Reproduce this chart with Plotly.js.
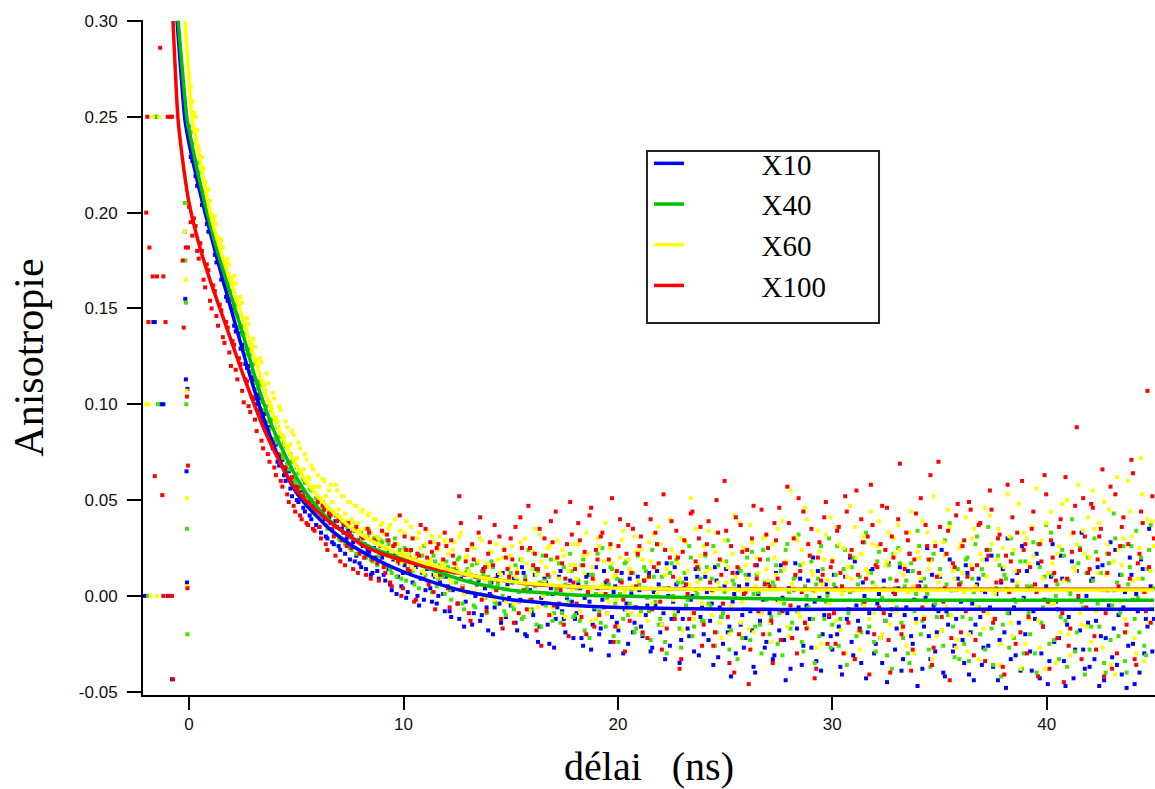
<!DOCTYPE html>
<html><head><meta charset="utf-8">
<script src="https://cdn.plot.ly/plotly-3.0.1.min.js"></script>
<style>html,body{margin:0;padding:0;background:#fff;} #chart{width:1155px;height:789px;}</style>
</head><body><div id="chart"></div>
<script>
// ---- series names ----
const names = ['X10', 'X40', 'X60', 'X100'];

// ---- measured anisotropy (values in 1/1000), channel set A: t = 0, 0.15, 0.30 ... 45 ns ----
const tA0 = 0, tB0 = 0.075, dt = 0.15;
const dataX10 = [
239,227,219,215,204,201,190,189,178,176,165,163,154,151,141,140,129,129,119,117,
112,100,103,91,87,88,77,79,68,71,60,65,52,58,49,55,44,47,40,46,
45,33,40,30,38,27,36,24,33,30,19,28,21,17,26,14,23,12,20,9,
20,8,14,3,22,10,5,16,2,13,18,0,9,-2,14,4,11,-4,7,1,
10,-8,3,15,-12,5,-3,12,-15,0,8,-10,4,-18,7,-6,11,-14,-2,6,
-5,9,-18,-2,12,-21,3,-10,14,-16,-4,7,-25,1,-12,10,-8,-19,5,-3,
-12,6,-22,-1,11,-28,-7,4,-17,13,-9,-24,2,-14,8,-30,-4,9,-19,-6,
3,-21,-10,12,-27,-5,6,-15,-33,0,-12,15,-8,-23,4,-17,-2,-29,10,-11,
-20,2,-13,-36,8,-6,-25,14,-16,-3,-30,5,-10,-22,11,-18,-40,1,-8,-27,
7,-14,-31,-2,16,-23,-9,-38,3,-17,9,-26,-5,-12,20,-34,-1,-20,6,-11,
-28,4,-16,-41,10,-7,-24,18,-13,-35,0,-19,13,-30,-4,-22,8,-45,-10,2,
-17,15,-33,-6,22,-25,-12,5,-38,-1,-21,11,-29,-8,24,-42,-15,3,-26,9,
-3,-35,12,-19,-44,6,-11,-27,19,-6,-37,1,-23,14,-48,-9,8,-31,-14,26,
-20,4,-39,-12,17,-30,-2,-46,10,-24,-7,21,-34,-15,3,-43,13,-18,-28,0,
-37,9,-13,-47,16,-22,-5,-32,24,-10,-41,2,-26,11,-46,-8,19,-30,-16,5,
-12];
const dataX40 = [
245,236,225,221,207,204,194,192,181,181,171,170,159,159,148,146,136,137,126,126,
121,108,110,97,99,87,92,80,83,72,78,66,70,59,64,53,59,48,55,44,
50,40,47,35,44,32,42,29,38,36,25,35,22,33,31,20,34,18,30,21,
28,15,27,12,30,19,9,25,14,24,6,22,17,26,8,19,21,5,16,10,
18,3,14,7,20,-4,12,2,16,-6,9,13,-1,10,18,-3,6,11,-8,4,
12,-7,8,19,-11,4,-2,14,-15,7,21,-5,10,-13,3,17,-9,6,-3,13,
-10,8,16,-18,2,11,-6,22,-14,5,-1,15,-21,9,1,-12,18,-4,12,-17,
6,-20,13,-8,24,-3,-15,10,-24,3,17,-10,7,-27,12,-2,20,-16,1,9,
-13,15,-5,26,-19,4,-9,18,-28,8,-1,14,-22,11,-7,23,-16,2,-30,7,
19,-11,5,-25,13,-4,27,-17,9,-8,16,-29,0,21,-12,6,-21,14,-3,30,
-15,11,-26,3,24,-9,15,-33,6,-19,28,-2,12,-24,18,-7,4,-31,9,22,
-6,17,-22,8,-35,13,1,26,-13,5,-28,19,-4,10,-18,29,-10,3,-32,14,
7,-25,20,-12,2,31,-20,11,-7,24,-36,4,16,-15,9,-27,22,-3,13,-38,
18,-9,5,-30,27,-14,10,-2,33,-23,6,-11,21,-37,1,15,-19,25,-6,12,
-28,8,23,-16,3,-40,17,-5,30,-21,11,-34,6,26,-12,-1,20,-26,14,37,
4];
const dataX60 = [
272,258,250,233,229,216,212,199,198,187,186,175,176,166,167,154,156,144,145,133,
134,123,124,112,116,101,106,93,99,84,91,78,86,71,80,64,74,62,68,57,
63,51,60,46,58,44,55,41,52,39,49,38,47,34,45,31,43,29,40,30,
38,24,35,20,40,27,17,33,22,36,14,30,25,12,34,19,28,10,31,16,
27,9,24,16,31,5,20,13,26,2,18,29,8,15,23,-2,19,11,25,4,
21,-4,14,28,6,17,-8,23,11,32,0,15,26,-6,19,9,24,-11,13,3,
16,27,-5,12,22,-13,8,30,1,18,-9,25,10,-2,20,34,-7,14,5,23,
-10,19,9,28,-4,15,36,-15,11,3,24,-8,17,30,-1,13,51,-12,7,21,
26,-6,14,2,33,-14,18,7,-20,22,10,38,-3,16,-17,28,5,12,-9,31,
8,-24,20,35,-2,14,-16,55,4,29,-11,17,40,-7,11,-27,23,6,32,-4,
19,-13,27,1,-30,15,9,36,-19,22,-5,12,44,-9,26,-22,3,18,-15,30,
-8,24,11,-26,33,5,-14,20,39,-3,14,-33,28,7,-18,21,45,-10,9,-23,
27,2,-29,16,35,-6,22,-17,10,42,-12,19,-36,25,4,31,-21,13,48,-2,
-25,17,36,6,-13,29,-38,12,44,-4,22,-19,8,50,-31,15,27,-9,34,-16,
20,55,-8,38,-27,11,45,3,-41,24,16,-12,60,31,-22,9,72,-34,40,13,
26];
const dataX100 = [
203,188,193,176,180,161,170,150,159,141,149,132,140,120,131,113,121,101,112,96,
103,86,95,77,88,70,80,63,73,57,67,49,62,44,57,40,54,37,50,34,
49,30,45,24,42,31,39,18,37,26,33,14,36,22,30,11,33,19,28,8,
34,12,29,5,27,18,0,31,14,24,-3,22,37,9,20,28,2,25,11,19,
26,-6,21,13,52,4,18,-9,27,10,33,-2,15,22,0,37,8,-12,24,14,
30,-14,12,41,3,-7,25,16,-18,35,6,21,-10,28,44,-4,17,9,-21,32,
14,38,-11,23,2,46,-16,19,31,-6,8,27,-24,13,40,-2,22,-13,35,5,
26,-19,48,10,-7,33,17,-28,24,4,39,-12,20,-33,29,1,43,-9,15,36,
-15,27,7,-26,50,19,-4,34,-35,12,41,-20,23,2,-46,30,16,-8,45,6,
25,-13,38,9,-23,17,57,-5,30,-30,13,44,-17,21,3,-38,28,11,49,-10,
18,-25,36,5,52,-14,24,-33,11,40,-3,31,58,-20,15,27,-9,46,-40,20,
8,69,-16,33,22,-28,43,12,-6,37,19,-36,26,70,-11,4,34,-22,15,48,
-19,29,10,45,-31,16,38,-8,24,55,-14,7,32,-37,21,2,41,-25,13,60,
27,-11,35,6,-42,18,63,-3,29,12,-22,40,-45,9,-17,33,88,24,51,-6,
14,46,-28,31,66,-9,22,-38,53,5,36,-19,27,71,-33,17,44,2,107,-14,
30];

// ---- channel set B: t = 0.075, 0.225 ... 44.925 ns (values in 1/1000) ----
const dataX10b = [
229,227,214,212,206,194,192,186,174,173,167,156,155,150,138,137,131,121,120,114,
103,105,93,95,84,80,81,70,73,63,66,56,60,50,55,46,51,42,47,37,
36,44,31,41,28,39,26,35,22,34,31,18,29,15,27,24,11,25,13,21,
11,23,6,19,1,17,12,-1,20,7,15,-5,12,3,17,-3,10,0,14,-8,
5,-11,13,-4,9,-16,2,11,-9,6,-13,14,-6,1,-20,9,-4,12,-11,-1,
7,-14,-3,15,-20,2,-8,11,-24,-1,9,-15,4,-27,-6,13,-12,-1,8,-22,
-9,4,-26,10,-3,-15,15,-20,-2,7,-31,-11,5,-18,12,-7,-25,1,-14,10,
-16,8,-5,-29,2,13,-19,-9,17,-26,-3,6,-35,-12,9,-21,0,14,-31,-6,
10,-23,-4,15,-32,-11,5,-19,-42,1,12,-15,-27,6,-8,-37,16,-13,-2,-24,
-9,-33,12,-18,-1,-44,4,-22,17,-6,-36,-14,8,-27,-3,13,-39,-10,2,-21,
11,-20,-37,3,-12,20,-31,-5,-17,7,-43,-9,14,-25,1,-35,-13,17,-7,-28,
4,-39,-10,13,-21,-2,-47,8,-16,25,-33,-5,-19,10,-40,-8,19,-29,-12,6,
-23,16,-41,-4,-15,9,-36,2,-26,21,-12,-44,7,-19,30,-33,-6,12,-39,-1,
13,-29,-8,22,-43,-16,5,-34,27,-3,-22,9,-47,-11,18,-28,-2,33,-38,-14,
8,-33,15,-21,-44,3,28,-17,-36,11,-6,-48,20,-25,1,-40,14,-12,35,-29];
const dataX40b = [
242,228,226,212,211,198,197,185,185,173,173,162,163,151,152,140,141,129,129,117,
111,112,101,107,91,97,82,88,74,80,69,74,61,67,56,61,51,56,46,51,
41,49,37,45,34,42,30,39,27,37,24,34,22,33,20,31,19,30,16,29,
17,29,14,26,10,24,20,8,23,13,19,4,21,11,17,2,18,9,15,1,
15,-2,12,19,3,-7,14,8,-5,17,1,11,-9,7,15,-4,12,0,-10,9,
-5,16,2,-12,10,24,-7,5,13,-16,8,1,19,-9,4,-14,15,0,22,-11,
4,-13,19,7,-22,11,1,-8,25,-16,6,14,-4,-24,8,17,-10,3,-19,21,
-8,15,-1,-23,10,27,-12,4,-30,12,0,19,-17,7,-5,26,-21,3,14,-13,
21,-4,9,-26,16,-11,2,29,-18,6,-33,13,-7,20,-23,1,11,-15,24,-2,
-20,7,16,-9,-31,24,2,-14,10,32,-24,5,-6,18,-35,9,26,-12,0,-27,
6,26,-12,14,-36,2,20,-21,10,-4,33,-16,7,-29,23,-1,-13,16,-38,4,
25,-14,5,-30,17,-8,34,-20,9,1,-37,22,-11,14,-26,6,38,-16,3,-33,
-11,19,-34,9,27,-6,14,-28,36,-17,2,21,-42,11,-9,30,-22,5,18,-30,
5,-20,28,-40,15,-6,37,-25,11,0,-33,24,-13,8,40,-29,17,-3,-41,20,
-16,30,-4,12,-35,22,-23,43,7,-9,26,-40,15,-2,34,-19,9,-31,24,-7];
const dataX60b = [
266,252,243,229,223,212,206,196,194,184,182,174,173,164,163,152,153,142,142,131,
130,120,122,110,111,99,103,91,97,83,88,79,84,72,77,66,71,61,66,57,
57,61,52,55,49,58,45,52,43,49,40,47,38,44,35,42,33,40,31,37,
33,21,37,26,18,34,23,39,16,30,21,33,13,27,18,31,11,24,17,29,
22,7,28,14,33,1,21,11,25,6,30,-1,17,23,4,27,12,20,-3,15,
26,10,-3,19,30,2,14,35,-6,18,7,25,-10,12,29,4,21,-4,16,27,
9,-8,21,33,3,15,-12,26,6,38,-3,17,11,-16,29,2,19,-9,31,8,
24,4,-13,18,32,1,27,-7,14,40,-2,21,9,-18,28,6,-9,35,16,-4,
12,34,-10,23,7,-22,29,15,-5,42,3,-14,25,9,37,-19,20,-1,30,14,
-14,27,11,-3,39,18,-21,6,31,-9,24,46,-16,13,2,34,-25,19,8,41,
3,36,-18,25,10,47,-7,20,-28,31,14,-12,27,5,39,-20,16,33,-3,22,
37,-17,16,2,44,-30,23,9,-11,33,18,52,-21,11,28,-6,36,13,-27,25,
12,41,-20,30,5,-33,19,46,-9,27,1,35,-25,15,53,-14,24,7,-38,33,
30,-12,21,56,-27,9,38,-4,17,-35,26,48,3,-20,32,13,58,-15,22,41,
-24,35,12,-7,49,27,-36,18,62,-3,30,-19,44,8,-30,25,53,2,-14,39];
const dataX100b = [
195,197,180,184,165,173,154,162,146,152,135,143,127,133,118,124,107,113,99,104,
92,97,81,88,74,81,67,74,60,67,53,61,47,56,42,52,38,49,35,47,
36,47,27,43,35,21,40,29,16,38,25,34,12,31,20,35,9,29,17,26,
15,32,7,26,20,42,4,24,13,30,-2,21,16,35,6,23,-7,27,12,33,
4,29,17,-4,38,11,24,-13,19,6,41,13,-8,28,16,3,31,-17,20,10,
19,36,-9,25,8,47,-2,22,14,-26,30,11,39,-5,20,3,-15,27,49,7,
-4,29,16,-20,42,9,24,-10,33,1,19,51,-16,26,7,-29,37,12,-6,22,
31,8,-22,40,15,27,-3,53,-17,20,10,34,-38,23,6,-12,44,18,30,-26,
22,39,3,-19,33,11,60,-11,26,-40,15,37,1,24,-28,47,9,19,-20,32,
5,-35,29,46,-8,17,38,-22,11,51,2,-14,27,35,-43,20,8,41,-25,15,
-9,34,12,-30,44,21,3,55,-18,28,9,-41,37,16,-6,47,24,-23,31,1,
40,-20,14,29,-39,19,5,51,-12,26,63,-27,10,36,-3,22,-44,17,42,6,
26,-8,49,14,-23,37,3,-34,21,45,-12,30,8,-41,58,18,-2,33,-19,24,
-30,15,44,2,27,-16,53,-38,20,8,36,-9,62,-26,23,47,0,-33,31,12,
48,-21,19,35,-42,12,57,3,-30,26,41,-15,9,64,-36,22,38,-8,15,52];

// ---- points before the pulse (t < 0) ----
const preX_X10 = [-2.1,-1.9,-1.7,-1.6,-1.5,-1.3,-1.2,-1.0,-0.8,-0.2,-0.18,-0.15,-0.12,-0.1,-0.08];
const preY_X10 = [0,0,0.1429,0.1429,0.25,0.1,0.1,0,-0.0435,0.19,0.155,0.113,0.065,0.007,0.108];
const preX_X40 = [-1.6,-1.9,-1.45,-0.2,-0.18,-0.15,-0.13,-0.1,-0.08];
const preY_X40 = [0.25,0,0.1,0.205,0.175,0.153,0.10,0.035,-0.02];
const preX_X60 = [-1.7,-1.4,-2.0,-1.9,-1.8,-1.5,-1.85,-0.2,-0.16,-0.12,-0.1,-0.07];
const preY_X60 = [0.25,0.25,0.1,0.1,0,0,0.1429,0.19,0.165,0.107,0.051,0.005];
const preX_X100 = [-1.95,-1.0,-0.9,-0.8,-1.35,-2.0,-1.85,-0.15,-0.05,-1.7,-1.5,-1.2,-1.9,-1.1,-1.6,-1.25,-1.2,-0.95,-0.8,-0.75,-0.3,-0.25,-0.1,-0.05,-0.08];
const preY_X100 = [0.25,0.25,0.25,0.25,0.286,0.20,0.1818,0.1818,0.1818,0.1667,0.1667,0.1667,0.1429,0.1429,0.0625,0.0526,0,0,0,-0.0435,0.175,0.14,0.104,0.068,0.004];

// ---- fitted decay curves ----
const fitX_X10 = [-0.56,-0.19,0,0.5,1,1.5,2,2.5,3,3.5,4,4.5,5,5.5,6,6.5,7,7.5,8,9,10,11,12,13,14,15,16,18,20,25,30,45];
const fitY_X10 = [0.300,0.248,0.236,0.211,0.189,0.168,0.148,0.128,0.109,0.092,0.077,0.064,0.054,0.047,0.041,0.0355,0.031,0.027,0.0235,0.0175,0.0125,0.0085,0.005,0.002,0.000,-0.002,-0.003,-0.005,-0.006,-0.007,-0.007,-0.007];
const fitX_X40 = [-0.51,-0.09,0,0.5,1,1.5,2,2.5,3,3.5,4,4.5,5,5.5,6,6.5,7,7.5,8,9,10,11,12,13,14,15,16,18,20,24,27,30,45];
const fitY_X40 = [0.300,0.248,0.243,0.216,0.193,0.173,0.155,0.137,0.117,0.100,0.085,0.073,0.062,0.053,0.046,0.040,0.035,0.031,0.028,0.023,0.019,0.015,0.011,0.0075,0.005,0.003,0.002,0.0005,0.0,-0.001,-0.0015,-0.0022,-0.0023];
const fitX_X60 = [-0.19,0,0.14,0.5,1,1.5,2,2.5,3,3.5,4,4.5,5,5.5,6,6.5,7,7.5,8,9,10,11,12,13,14,15,16,18,20,25,30,45];
const fitY_X60 = [0.300,0.268,0.250,0.228,0.199,0.179,0.162,0.145,0.126,0.108,0.092,0.079,0.068,0.059,0.052,0.046,0.041,0.036,0.032,0.026,0.021,0.017,0.014,0.011,0.009,0.0075,0.0063,0.0048,0.004,0.0033,0.0031,0.0031];
const fitX_X100 = [-0.75,-0.51,-0.2,0,0.5,1,1.5,2,2.5,3,3.5,4,4.5,5,5.5,6,6.5,7,7.5,8,9,10,11,12,13,14,15,16,18,20,25,45];
const fitY_X100 = [0.300,0.248,0.219,0.205,0.182,0.164,0.148,0.132,0.116,0.101,0.087,0.075,0.064,0.055,0.049,0.044,0.039,0.035,0.031,0.027,0.022,0.0185,0.0155,0.013,0.011,0.009,0.0075,0.006,0.0048,0.004,0.0035,0.0035];

// ---- axis ticks ----
const yTickVals = [-0.05,0,0.05,0.10,0.15,0.20,0.25,0.30];
const yTickText = ['-0.05','0.00','0.05','0.10','0.15','0.20','0.25','0.30'];
const xTickVals = [0,10,20,30,40];

// ---- build ----
const dotColors = {X10:'#0000ff', X40:'#44e000', X60:'#ffff00', X100:'#ff0000'};
const lineColors = {X10:'#0000ff', X40:'#00c000', X60:'#ffff00', X100:'#ff0000'};
const dataA = {X10:dataX10, X40:dataX40, X60:dataX60, X100:dataX100};
const dataB = {X10:dataX10b, X40:dataX40b, X60:dataX60b, X100:dataX100b};
const preX = {X10:preX_X10, X40:preX_X40, X60:preX_X60, X100:preX_X100};
const preY = {X10:preY_X10, X40:preY_X40, X60:preY_X60, X100:preY_X100};
const fitX = {X10:fitX_X10, X40:fitX_X40, X60:fitX_X60, X100:fitX_X100};
const fitY = {X10:fitY_X10, X40:fitY_X40, X60:fitY_X60, X100:fitY_X100};

const dot = n => ({symbol:'square', size:4, color:dotColors[n], line:{width:0}});
const traces = [];
names.forEach(n => {
  traces.push({type:'scatter', mode:'markers', x0:tA0, dx:dt, y:dataA[n].map(v => v/1000),
    marker:dot(n), showlegend:false, hoverinfo:'skip'});
  traces.push({type:'scatter', mode:'markers', x0:tB0, dx:dt, y:dataB[n].map(v => v/1000),
    marker:dot(n), showlegend:false, hoverinfo:'skip'});
  traces.push({type:'scatter', mode:'markers', x:preX[n], y:preY[n],
    marker:dot(n), showlegend:false, hoverinfo:'skip'});
});
const pad = '\u00a0'.repeat(10);
const lineOrder = ['X10','X40','X100','X60'];
const rank = {X10:1, X40:2, X60:3, X100:4};
lineOrder.forEach(n => {
  traces.push({type:'scatter', mode:'lines', x:fitX[n], y:fitY[n], name:pad + n,
    legendrank:rank[n], line:{color:lineColors[n], width:3.5, shape:'spline', smoothing:0.6}});
});

const serif = 'Liberation Serif, Times New Roman, serif';
const layout = {
  width:1155, height:789,
  margin:{l:143, r:0, t:20, b:94},
  paper_bgcolor:'#fff', plot_bgcolor:'#fff',
  font:{family:'Liberation Sans, Arial, sans-serif', color:'#000'},
  showlegend:true,
  legend:{x:0.50, y:0.8252, xanchor:'left', yanchor:'top', bgcolor:'rgba(0,0,0,0)',
    borderwidth:0, font:{family:serif, size:29, color:'#000'}, tracegroupgap:0},
  shapes:[{type:'rect', xref:'paper', yref:'paper', x0:0.498, x1:0.7273, y0:0.5511, y1:0.8059,
    line:{color:'#222', width:2}, fillcolor:'#fff', layer:'above'}],
  xaxis:{range:[-2.15,45.05], tickvals:xTickVals, ticks:'outside', ticklen:13, tickwidth:2, tickcolor:'#000',
    showline:true, linewidth:2, linecolor:'#000', showgrid:false, zeroline:false,
    tickfont:{size:17, color:'#111'},
    title:{text:'délai\u00a0\u00a0\u00a0(ns)\u00a0\u00a0\u00a0\u00a0', font:{family:serif, size:40, color:'#000'}, standoff:20}},
  yaxis:{range:[-0.0517,0.3005], tickvals:yTickVals, ticktext:yTickText, ticks:'outside', ticklen:14, tickwidth:2, tickcolor:'#000',
    showline:true, linewidth:2, linecolor:'#000', showgrid:false, zeroline:false,
    tickfont:{size:17, color:'#111'}, ticklabelstandoff:6,
    title:{text:'Anisotropie', font:{family:serif, size:42, color:'#000'}, standoff:22}}
};
Plotly.newPlot('chart', traces, layout, {displayModeBar:false, staticPlot:true});
</script></body></html>
